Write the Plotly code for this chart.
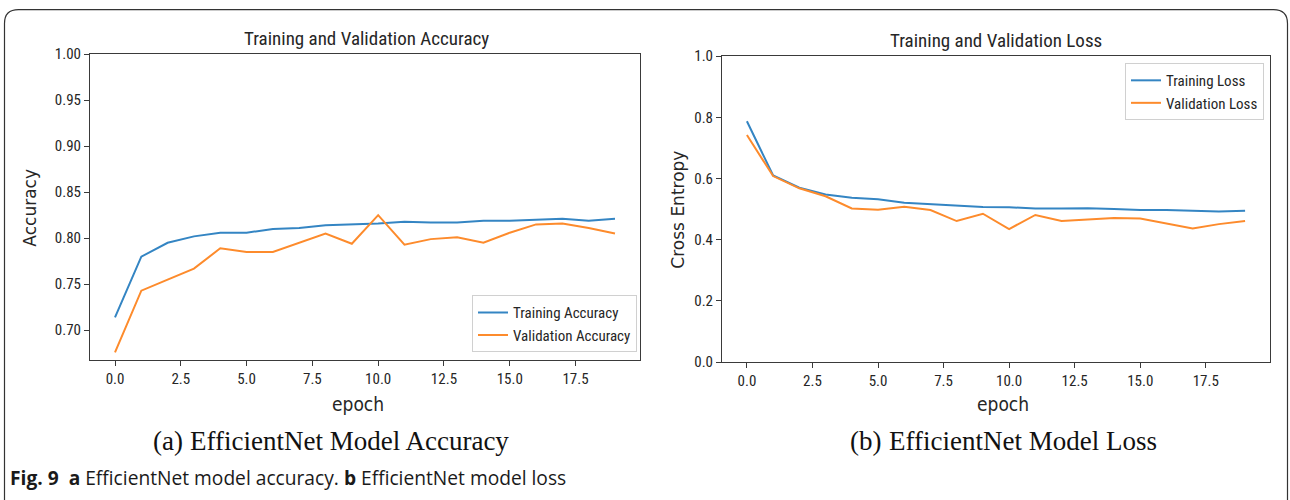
import plotly.graph_objects as go

epochs = list(range(20))
train_acc = [0.714, 0.780, 0.795, 0.802, 0.806, 0.806, 0.810, 0.811, 0.814, 0.815,
             0.816, 0.818, 0.817, 0.817, 0.819, 0.819, 0.820, 0.821, 0.819, 0.821]
val_acc = [0.676, 0.743, 0.755, 0.767, 0.789, 0.785, 0.785, 0.795, 0.805, 0.794,
           0.825, 0.793, 0.799, 0.801, 0.795, 0.806, 0.815, 0.816, 0.811, 0.805]
train_loss = [0.787, 0.610, 0.570, 0.548, 0.537, 0.532, 0.521, 0.517, 0.512, 0.507,
              0.506, 0.502, 0.502, 0.503, 0.500, 0.497, 0.497, 0.495, 0.492, 0.495]
val_loss = [0.742, 0.608, 0.568, 0.542, 0.502, 0.498, 0.508, 0.497, 0.461, 0.485,
            0.435, 0.481, 0.461, 0.466, 0.471, 0.469, 0.454, 0.437, 0.451, 0.461]

W, H = 1290, 500
BLUE = "#3485c3"
ORANGE = "#fd8b2c"
NARROW = "Liberation Sans Narrow, Roboto Condensed, DejaVu Sans Condensed, Liberation Sans, sans-serif"
SERIF = "Liberation Serif, DejaVu Serif, serif"

# observed vertical placement of the page in the photograph: out = OFF + SC * y
OFF, SC = 7.75, 0.967


def px(x):
    return x / W


def py(y):
    return 1 - ((y - OFF) / SC) / H


fig = go.Figure()

fig.add_trace(go.Scatter(x=epochs, y=train_acc, mode="lines", name="Training Accuracy",
                         line=dict(color=BLUE, width=2), xaxis="x", yaxis="y", legend="legend"))
fig.add_trace(go.Scatter(x=epochs, y=val_acc, mode="lines", name="Validation Accuracy",
                         line=dict(color=ORANGE, width=2), xaxis="x", yaxis="y", legend="legend"))
fig.add_trace(go.Scatter(x=epochs, y=train_loss, mode="lines", name="Training Loss",
                         line=dict(color=BLUE, width=2), xaxis="x2", yaxis="y2", legend="legend2"))
fig.add_trace(go.Scatter(x=epochs, y=val_loss, mode="lines", name="Validation Loss",
                         line=dict(color=ORANGE, width=2), xaxis="x2", yaxis="y2", legend="legend2"))

axis_common = dict(showgrid=False, zeroline=False, showline=True, linecolor="#3a3a3a",
                   linewidth=1, mirror=True, ticks="outside", ticklen=5, tickwidth=1,
                   tickcolor="#3a3a3a", tickfont=dict(family=NARROW, size=15, color="#262626"))

fig.update_layout(
    width=W, height=H,
    margin=dict(l=0, r=0, t=0, b=0),
    paper_bgcolor="white", plot_bgcolor="white",
    xaxis=dict(domain=[px(90), px(640)], anchor="y", range=[-0.95, 19.95],
               tick0=0, dtick=2.5, tickformat=".1f", **axis_common),
    yaxis=dict(domain=[py(360), py(53)], anchor="x", range=[0.6675, 1.0],
               tick0=0.7, dtick=0.05, tickformat=".2f", **axis_common),
    xaxis2=dict(domain=[px(722), px(1270)], anchor="y2", range=[-0.95, 19.95],
                tick0=0, dtick=2.5, tickformat=".1f", **axis_common),
    yaxis2=dict(domain=[py(362), py(55)], anchor="x2", range=[0, 1.0],
                tick0=0, dtick=0.2, tickformat=".1f", **axis_common),
    legend=dict(x=px(637), y=py(352), xanchor="right", yanchor="bottom",
                bgcolor="white", bordercolor="#d0d0d0", borderwidth=1,
                font=dict(family=NARROW, size=15, color="#262626"), tracegroupgap=0),
    legend2=dict(x=px(1264), y=py(62), xanchor="right", yanchor="top",
                 bgcolor="white", bordercolor="#d0d0d0", borderwidth=1,
                 font=dict(family=NARROW, size=15, color="#262626"), tracegroupgap=0),
    showlegend=True,
)


def note(text, x, y, size, family, xanchor="center", angle=0, color="#262626"):
    return dict(text=text, x=px(x), y=py(y), xref="paper", yref="paper", xanchor=xanchor,
                yanchor="middle", textangle=angle, showarrow=False,
                font=dict(family=family, size=size, color=color))


DV = "DejaVu Sans"
DVC = "DejaVu Sans Condensed, DejaVu Sans"
ann = [
    note("Training and Validation Accuracy", 366, 37, 19, NARROW),
    note("Training and Validation Loss", 996, 39, 19, NARROW),
    note("Accuracy", 30, 207, 17, DV, angle=-90),
    note("Cross Entropy", 678, 209, 17, DV, angle=-90),
    note("epoch", 358, 404, 19, DVC),
    note("epoch", 1003, 404, 19, DVC),
    note("(a)", 151, 441, 27, SERIF, xanchor="left", color="#111111"),
    note("EfficientNet Model Accuracy", 188, 441, 27, SERIF, xanchor="left", color="#111111"),
    note("(b)", 848, 441, 27, SERIF, xanchor="left", color="#111111"),
    note("EfficientNet Model Loss", 887, 441, 27, SERIF, xanchor="left", color="#111111"),
    note("<b>Fig. 9</b>  <b>a</b> EfficientNet model accuracy. <b>b</b> EfficientNet model loss",
         8, 478, 19.2, "Open Sans, Noto Sans, sans-serif", xanchor="left", color="#1a1a1a"),
]
fig.update_layout(annotations=ann)

# rounded outer frame (open at the bottom)
L, T, R, B, r = 4.5, 8.3, 1287.5, 520, 14
path = (f"M {px(L)},{py(B)} L {px(L)},{py(T + r)} Q {px(L)},{py(T)} {px(L + r)},{py(T)} "
        f"L {px(R - r)},{py(T)} Q {px(R)},{py(T)} {px(R)},{py(T + r)} L {px(R)},{py(B)}")
fig.add_shape(type="path", path=path, xref="paper", yref="paper",
              line=dict(color="#333333", width=1.2))

post = ("document.documentElement.style.margin='0';document.body.style.margin='0';"
        "document.documentElement.style.overflow='hidden';"
        "var d=document.getElementById('{plot_id}');"
        "d.style.position='absolute';d.style.top='0px';d.style.left='0px';")

fig.write_html("out.html", config={"displayModeBar": False}, post_script=post)
